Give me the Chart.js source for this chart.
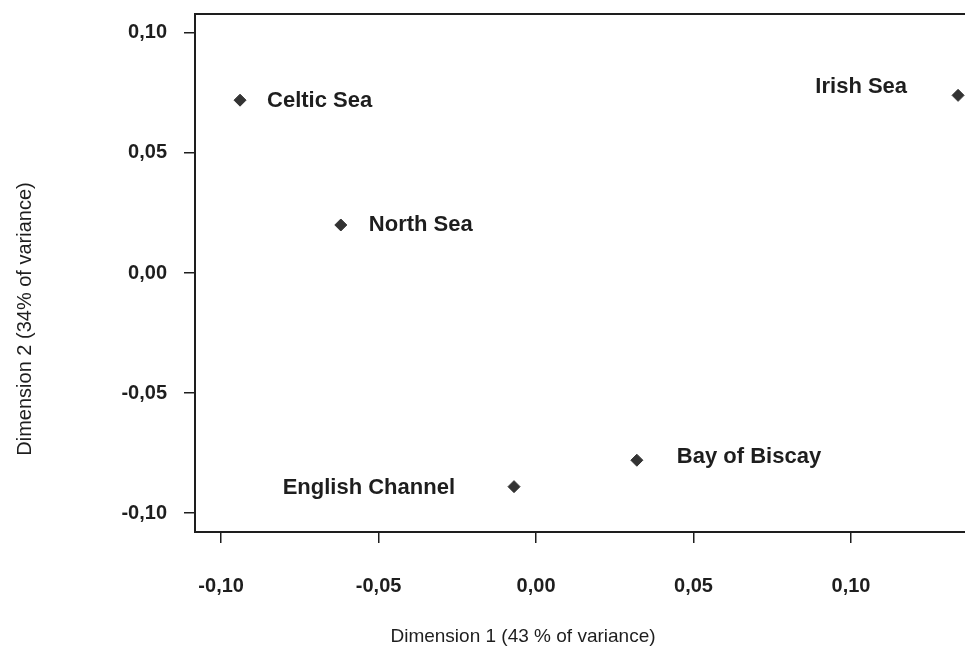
<!DOCTYPE html>
<html>
<head>
<meta charset="utf-8">
<script src="https://cdn.jsdelivr.net/npm/chart.js@4.4.1/dist/chart.umd.min.js"></script>
<style>
  html, body { margin: 0; padding: 0; background: #fff; overflow: hidden; }
</style>
</head>
<body>
<canvas id="mdsChart" width="965" height="654"></canvas>
<script>
// sea areas and their scores on the two dimensions
const regions = ['Celtic Sea', 'North Sea', 'English Channel', 'Bay of Biscay', 'Irish Sea'];
const dim1 = [-0.094, -0.062, -0.007, 0.032, 0.134];
const dim2 = [0.072, 0.020, -0.089, -0.078, 0.074];
const xTicks = [-0.10, -0.05, 0.00, 0.05, 0.10];
const yTicks = [-0.10, -0.05, 0.00, 0.05, 0.10];
const xTitle = 'Dimension 1 (43 % of variance)';
const yTitle = 'Dimension 2 (34% of variance)';

// where each name sits next to its marker
const labelPos = [
  { align: 'left', dx: 27, dy: 1 },
  { align: 'left', dx: 28, dy: 0 },
  { align: 'right', dx: -59, dy: 1 },
  { align: 'left', dx: 40, dy: -3 },
  { align: 'right', dx: -51, dy: -8 }
];

const ink = '#1e1e1e';
const fam = '"Liberation Sans", Arial, sans-serif';

function fmt(v) {
  if (Math.abs(v) < 1e-9) v = 0;
  return v.toFixed(2).replace('.', ',');
}

const pointLabels = {
  id: 'pointLabels',
  afterDatasetsDraw(chart) {
    const ctx = chart.ctx;
    const meta = chart.getDatasetMeta(0);
    ctx.save();
    ctx.fillStyle = ink;
    ctx.font = 'bold 22px ' + fam;
    ctx.textBaseline = 'middle';
    meta.data.forEach((pt, i) => {
      const p = labelPos[i];
      ctx.textAlign = p.align;
      ctx.fillText(regions[i], pt.x + p.dx, pt.y + p.dy);
    });
    ctx.restore();
  }
};

const frameAndTitles = {
  id: 'frameAndTitles',
  afterDraw(chart) {
    const ctx = chart.ctx;
    const a = chart.chartArea;
    ctx.save();
    ctx.strokeStyle = ink;
    ctx.lineWidth = 2;
    ctx.beginPath();
    ctx.moveTo(a.left - 1, a.top);
    ctx.lineTo(a.right, a.top);
    ctx.stroke();

    ctx.fillStyle = ink;
    ctx.textAlign = 'center';
    ctx.textBaseline = 'middle';
    ctx.font = '19px ' + fam;
    ctx.fillText(xTitle, 523, 637);
    ctx.font = '20px ' + fam;
    ctx.translate(25, 319);
    ctx.rotate(-Math.PI / 2);
    ctx.fillText(yTitle, 0, 0);
    ctx.restore();
  }
};

new Chart(document.getElementById('mdsChart').getContext('2d'), {
  type: 'scatter',
  data: {
    datasets: [{
      data: dim1.map((x, i) => ({ x: x, y: dim2[i] })),
      pointStyle: 'rectRot',
      pointRadius: 6,
      backgroundColor: '#333',
      borderColor: '#333',
      borderWidth: 1
    }]
  },
  options: {
    responsive: false,
    animation: false,
    layout: { autoPadding: false, padding: { top: 14, right: 0, left: 0, bottom: 0 } },
    plugins: { legend: { display: false }, tooltip: { enabled: false } },
    scales: {
      x: {
        type: 'linear',
        min: -0.1083,
        max: 0.1362,
        afterBuildTicks: s => { s.ticks = xTicks.map(v => ({ value: v })); },
        afterFit: s => { s.height = 122; s.paddingLeft = 0; s.paddingRight = 0; },
        grid: { drawOnChartArea: false, drawTicks: true, tickLength: 11, color: ink, lineWidth: 1.5 },
        border: { color: ink, width: 2 },
        ticks: { padding: 31, color: ink, font: { family: fam, size: 20, weight: 'bold' }, callback: v => fmt(v), maxRotation: 0 }
      },
      y: {
        type: 'linear',
        min: -0.1079,
        max: 0.1079,
        afterBuildTicks: s => { s.ticks = yTicks.map(v => ({ value: v })); },
        afterFit: s => { s.width = 195; s.paddingTop = 0; s.paddingBottom = 0; },
        grid: { drawOnChartArea: false, drawTicks: true, tickLength: 11, color: ink, lineWidth: 1.5 },
        border: { color: ink, width: 2 },
        ticks: { padding: 17, color: ink, font: { family: fam, size: 20, weight: 'bold' }, callback: v => fmt(v) }
      }
    }
  },
  plugins: [pointLabels, frameAndTitles]
});
</script>
</body>
</html>
